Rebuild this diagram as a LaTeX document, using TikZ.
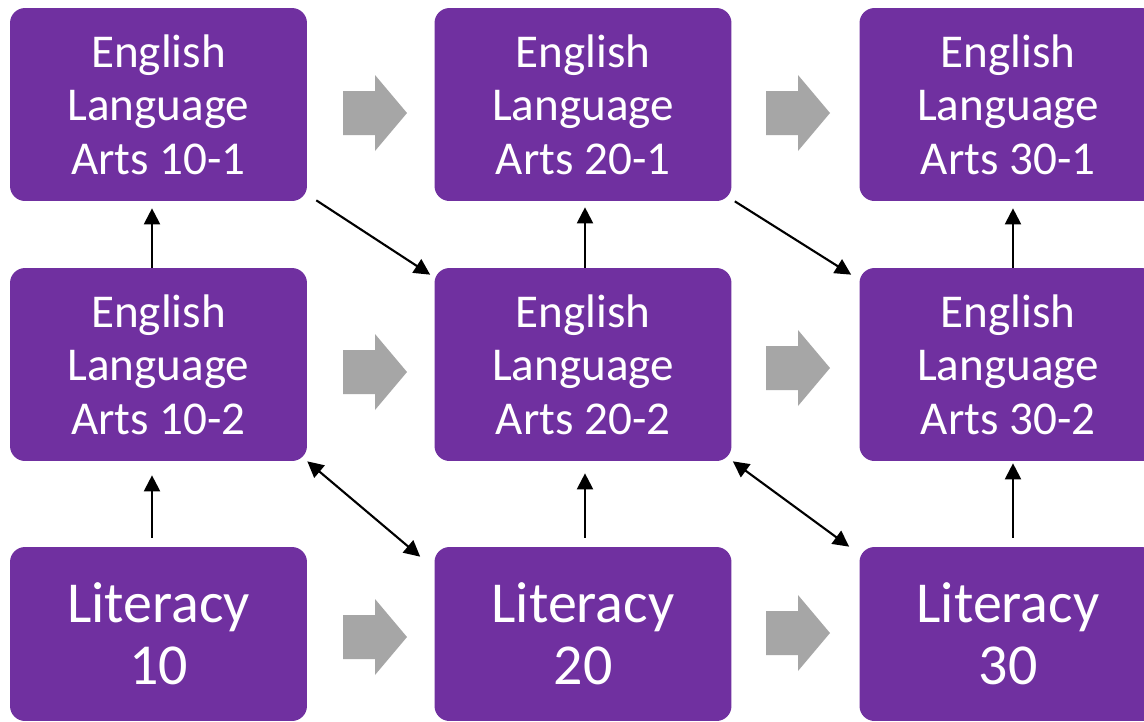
\documentclass[tikz,border=0pt]{standalone}
\usepackage{fontspec}
\setmainfont{Carlito}
\usetikzlibrary{arrows.meta}
\definecolor{boxpurple}{HTML}{7030A0}
\definecolor{arrowgray}{HTML}{A6A6A6}

\begin{document}
\begin{tikzpicture}[x=0.02cm, y=-0.02cm]

%-------------------------------------------------
% Styles
%-------------------------------------------------
\tikzset{
  course/.style={fill=boxpurple, rounded corners=0.3cm, text=white, align=center,
    minimum width=5.94cm, minimum height=3.86cm, inner sep=0pt,
    font=\fontsize{26.8}{30.5}\selectfont},
  literacy/.style={course, minimum height=3.48cm, font=\fontsize{33}{35.5}\selectfont},
  link/.style={draw=black, line width=1.2pt, -{Triangle[length=0.32cm, width=0.32cm]}},
  both/.style={link, {Triangle[length=0.32cm, width=0.32cm]}-{Triangle[length=0.32cm, width=0.32cm]}},
  next/.pic={\fill[arrowgray] (-32,-22) -- (0,-22) -- (0,-38) -- (32,0) -- (0,38) -- (0,22) -- (-32,22) -- cycle;}
}

% Page frame
\clip (0,0) rectangle (1144,721);
\fill[white] (0,0) rectangle (1144,721);

%-------------------------------------------------
% Course boxes
%-------------------------------------------------
\node[course] (ela101) at (158.5,104.5) {English\\Language\\Arts 10-1};
\node[course] (ela201) at (583,104.5) {English\\Language\\Arts 20-1};
\node[course] (ela301) at (1008,104.5) {English\\Language\\Arts 30-1};

\node[course] (ela102) at (158.5,364.5) {English\\Language\\Arts 10-2};
\node[course] (ela202) at (583,364.5) {English\\Language\\Arts 20-2};
\node[course] (ela302) at (1008,364.5) {English\\Language\\Arts 30-2};

\node[literacy] (lit10) at (158.5,634) {Literacy\\10};
\node[literacy] (lit20) at (583,634) {Literacy\\20};
\node[literacy] (lit30) at (1008,634) {Literacy\\30};

%-------------------------------------------------
% Grey block arrows (next grade)
%-------------------------------------------------
\pic at (375,113) {next};
\pic at (798,113) {next};
\pic at (375,372) {next};
\pic at (798,368) {next};
\pic at (375,637) {next};
\pic at (798,633) {next};

%-------------------------------------------------
% Vertical transfers
%-------------------------------------------------
\draw[link] ([xshift=-0.13cm]ela102.north) -- ([xshift=-0.13cm, yshift=-0.14cm]ela101.south);
\draw[link] ([xshift=-0.13cm, yshift=0.18cm]lit10.north) -- ([xshift=-0.13cm, yshift=-0.28cm]ela102.south);

\draw[link] ([xshift=0.04cm]ela202.north) -- ([xshift=0.04cm, yshift=-0.12cm]ela201.south);
\draw[link] ([xshift=0.04cm, yshift=0.18cm]lit20.north) -- ([xshift=0.04cm, yshift=-0.24cm]ela202.south);

\draw[link] ([xshift=0.1cm]ela302.north) -- ([xshift=0.1cm, yshift=-0.14cm]ela301.south);
\draw[link] ([xshift=0.1cm, yshift=0.18cm]lit30.north) -- ([xshift=0.1cm, yshift=-0.04cm]ela302.south);

%-------------------------------------------------
% Diagonal transfers
%-------------------------------------------------
\draw[link] ([xshift=0.18cm, yshift=0.02cm]ela101.south east) -- ([xshift=-0.08cm, yshift=-0.14cm]ela202.north west);
\draw[link] ([xshift=0.06cm]ela201.south east) -- ([xshift=-0.16cm, yshift=-0.14cm]ela302.north west);

\draw[both] (ela102.south east) -- ([xshift=-0.28cm, yshift=-0.2cm]lit20.north west);
\draw[both] ([xshift=0.02cm]ela202.south east) -- ([xshift=-0.2cm]lit30.north west);

\end{tikzpicture}
\end{document}
